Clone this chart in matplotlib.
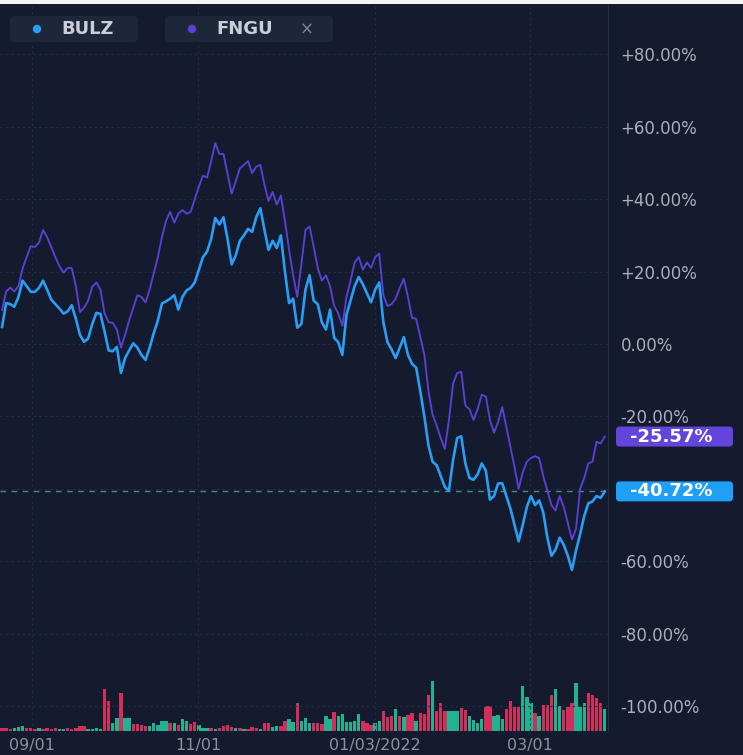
import matplotlib
matplotlib.use('Agg')
import matplotlib.pyplot as plt
from matplotlib.patches import FancyBboxPatch, Rectangle, Circle
from matplotlib.transforms import blended_transform_factory

# ---------------- data (percent change) ----------------
bulz = [4.7, 11.3, 11, 10.3, 13, 17.5, 16, 14.4, 14.4, 15.5,
        17.5, 15, 12.3, 11, 9.8, 8.4, 9, 10.7, 7, 2.5,
        0.6, 1.5, 5.5, 8.6, 8.3, 3.5, -1.8, -2, -0.8, -8,
        -3.9, -1.8, 0.2, -1, -3, -4.4, -1, 3, 6.5, 11.2,
        11.8, 12.5, 13.5, 9.5, 13, 14.8, 15.5, 17, 20.5, 24,
        25.5, 29, 34.8, 33, 35, 29, 22, 24.5, 28.5, 30,
        31.8, 31, 35, 37.5, 31.5, 26, 28.5, 26.5, 30, 20,
        11.3, 12.5, 4.5, 5.5, 15, 19, 12, 11, 6, 4,
        9.5, 1.7, 0.5, -3, 8, 12, 16, 18.5, 16.5, 14,
        11.5, 15, 17, 6, 0.5, -1.5, -3.9, -1, 1.9, -3,
        -5.5, -6.5, -13, -20, -28, -32.5, -33.5, -36.5, -39.5, -40.5,
        -32, -26, -25.5, -33, -37, -37.5, -36, -33, -35, -43,
        -42, -38.5, -38.5, -42, -45.5, -50, -54.5, -50, -45, -42,
        -44.5, -43.2, -46.5, -53.5, -58.5, -56.8, -53.5, -55.5, -58.5, -62.4,
        -57, -52.5, -47.5, -44, -43.5, -42, -42.5, -40.72]

fngu = [9.4, 14.5, 15.6, 14.5, 16, 20.8, 24, 27, 26.8, 28,
        31.5, 29.5, 26.8, 24, 21.5, 19.7, 21, 21, 16, 8.8,
        10, 12, 15.8, 17, 15, 8.5, 6, 5.9, 4, -1,
        2.5, 6.5, 10, 13.5, 13, 11.5, 15, 19.5, 24, 29.5,
        34, 36.5, 33.5, 36, 37, 36, 36.5, 40, 43.5, 46.5,
        46, 50.5, 55.5, 52.5, 52.5, 47, 41.5, 45, 48.5, 49.5,
        50.5, 47.2, 49, 49.5, 44, 39.5, 42, 38.5, 41, 34,
        26, 19, 13, 22, 31.5, 32.5, 27, 21, 17.5, 19,
        16, 10.5, 8.5, 5, 13, 17.5, 22.5, 24, 20.5, 22.5,
        21, 24, 25, 13.5, 10.5, 11, 12.5, 15.5, 18, 13,
        7.2, 7, 2, -3, -13, -19.5, -22.5, -26, -29, -21,
        -11, -8, -7.7, -17, -18, -21, -18, -14, -14.5, -21,
        -24.5, -21.5, -17.4, -23, -28.5, -34, -40, -35.5, -32.5, -31.5,
        -31, -31.5, -36.5, -40.5, -44.5, -46, -42, -45, -49.5, -54,
        -51, -40, -37, -33, -32.5, -27, -27.5, -25.57]

volume = [3, 3, 2, 3, 4, 5, 3, 3, 2, 3,
          2, 3, 2, 3, 2, 2, 3, 2, 3, 5,
          5, 2, 2, 3, 2, 42, 30, 8, 13, 38,
          13, 13, 7, 7, 6, 5, 5, 8, 6, 10,
          10, 8, 8, 6, 12, 10, 7, 9, 6, 3,
          3, 3, 2, 3, 5, 6, 4, 3, 3, 2,
          2, 4, 3, 2, 8, 8, 4, 5, 5, 10,
          12, 9, 28, 10, 13, 8, 8, 8, 7, 15,
          12, 19, 15, 17, 9, 9, 10, 17, 10, 8,
          6, 8, 10, 20, 14, 15, 22, 15, 14, 16,
          18, 10, 18, 17, 36, 50, 20, 28, 20, 20,
          20, 20, 23, 21, 15, 11, 8, 12, 25, 25,
          15, 16, 12, 22, 30, 24, 24, 45, 34, 28,
          18, 15, 26, 26, 36, 42, 25, 21, 24, 28,
          48, 24, 28, 38, 36, 33, 28, 22]

# 1 = up day (green), 0 = down day (red)
vol_up = [0, 0, 0, 1, 1, 1, 0, 0, 0, 1,
          0, 0, 0, 0, 1, 1, 0, 0, 0, 0,
          0, 1, 1, 1, 1, 0, 0, 1, 1, 0,
          1, 1, 0, 0, 0, 0, 1, 1, 1, 1,
          1, 0, 1, 0, 1, 1, 0, 0, 1, 1,
          1, 0, 1, 0, 0, 0, 0, 1, 0, 1,
          0, 0, 0, 1, 0, 0, 1, 1, 0, 0,
          1, 1, 0, 1, 1, 1, 0, 0, 0, 1,
          1, 0, 1, 1, 1, 1, 1, 1, 0, 0,
          0, 1, 1, 0, 0, 0, 1, 0, 1, 0,
          0, 1, 0, 0, 0, 1, 0, 0, 0, 1,
          1, 1, 0, 0, 1, 1, 1, 1, 0, 0,
          1, 1, 1, 0, 0, 0, 0, 1, 1, 1,
          0, 1, 0, 0, 0, 1, 1, 0, 0, 0,
          1, 1, 1, 0, 0, 0, 0, 1]

tick_pos = [7.3, 47.8, 91, 128.8]
tick_labels = ['09/01', '11/01', '01/03/2022', '03/01']
y_ticks = [80, 60, 40, 20, 0, -20, -40, -60, -80, -100]
hidden_tick = -40  # covered by the last-value box in the reference
series_names = ['BULZ', 'FNGU']
last_values = [-40.72, -25.57]

# ---------------- style ----------------
BG = '#141b2e'
GRID = '#242c3f'
TXT = '#a9afbd'
BLUE = '#2a9df4'
PURPLE = '#5c3fd4'
BLUE_BOX = '#1f9ff5'
PURPLE_BOX = '#6344dd'
GREEN = '#22c19a'
RED = '#e3315f'

W, H = 743, 755
fig = plt.figure(figsize=(W / 100, H / 100), dpi=100, facecolor=BG)

def fx(px):
    return px / W

def fy(py):
    return 1 - py / H

# white strip at top
fig.patches.append(Rectangle((0, fy(4)), 1, 4 / H, transform=fig.transFigure,
                             facecolor='#f4f4f6', edgecolor='none'))

plot_top, plot_bot, plot_right = 5, 731, 608
ax = fig.add_axes([0, fy(plot_bot), fx(plot_right), (plot_bot - plot_top) / H])
ax.set_facecolor('none')
xs = list(range(len(bulz)))
px_per_pct = 3.62
ax.set_xlim(-0.5, plot_right / 4.1 - 0.5)
ax.set_ylim((344 - plot_bot) / px_per_pct, (344 - plot_top) / px_per_pct)

# volume axes
vax = fig.add_axes([0, fy(plot_bot), fx(plot_right), 52 / H], zorder=0)
vax.set_facecolor('none')
vax.set_xlim(ax.get_xlim())
vax.set_ylim(0, 52)
vcolors = [GREEN if u else RED for u in vol_up]
vax.bar(range(len(volume)), volume, width=0.85, color=vcolors, alpha=0.92,
        linewidth=0)
vax.axis('off')
ax.set_zorder(1)

# grid
for v in y_ticks:
    ax.axhline(v, color=GRID, lw=0.8, ls=(0, (2, 3)), zorder=0)
for t in tick_pos:
    ax.axvline(t, color=GRID, lw=0.8, ls=(0, (2, 3)), zorder=0)

# lines
ax.plot(xs, fngu, color=PURPLE, lw=1.35, zorder=3, solid_joinstyle='round')
ax.plot(xs, bulz, color=BLUE, lw=1.9, zorder=4, solid_joinstyle='round')
ax.axhline(last_values[0], color='#3f8f94', lw=1.0, ls=(0, (4, 4)), zorder=2)

# axes styling
for s in ['top', 'left', 'bottom']:
    ax.spines[s].set_visible(False)
ax.spines['right'].set_color('#252d40')
ax.spines['right'].set_linewidth(0.8)
ax.yaxis.tick_right()
ax.set_yticks(y_ticks)
ax.set_yticklabels(['' if v == hidden_tick else ('+' if v > 0 else '') + f'{v:.2f}%'
                    for v in y_ticks])
ax.tick_params(axis='y', length=0, pad=9, labelsize=12, labelcolor=TXT)
ax.set_xticks(tick_pos)
ax.set_xticklabels(tick_labels)
ax.tick_params(axis='x', length=0, pad=5, labelsize=11.5, labelcolor='#8c92a2')

# last-value boxes on the right
bt = blended_transform_factory(fig.transFigure, ax.transData)
box_h = 20 / px_per_pct
for val, col in zip(last_values, [BLUE_BOX, PURPLE_BOX]):
    p = FancyBboxPatch((fx(616), val - box_h / 2), fx(117), box_h,
                       boxstyle='round,pad=0,rounding_size=0.005',
                       mutation_aspect=(3 / px_per_pct) / fx(3),
                       transform=bt, facecolor=col, edgecolor='none',
                       clip_on=False, zorder=5)
    ax.add_artist(p)
    ax.text(fx(671), val, f'{val:.2f}%', transform=bt, ha='center', va='center',
            color='white', fontsize=13, fontweight='bold', zorder=6, clip_on=False)

# legend pills
pills = [(10, 138, BLUE, series_names[0], False), (165, 333, PURPLE, series_names[1], True)]
for x0, x1, col, name, close in pills:
    fig.patches.append(FancyBboxPatch((fx(x0), fy(42)), fx(x1 - x0), 26 / H,
                                      boxstyle='round,pad=0,rounding_size=0.006',
                                      mutation_aspect=(W / H),
                                      transform=fig.transFigure,
                                      facecolor='#1e2639', edgecolor='none'))
    fig.patches.append(Circle((fx(x0 + 27), fy(29)), 4.2 / W, transform=fig.transFigure,
                              facecolor=col, edgecolor='none'))
    fig.text(fx(x0 + 51), fy(29.5), name, ha='left', va='center', fontsize=13,
             fontweight='bold', color='#c9ced8')
    if close:
        fig.text(fx(x0 + 142), fy(30), '×', ha='center', va='center', fontsize=12,
                 color='#7f8696')

fig.savefig('out.png', dpi=100, facecolor=BG)
